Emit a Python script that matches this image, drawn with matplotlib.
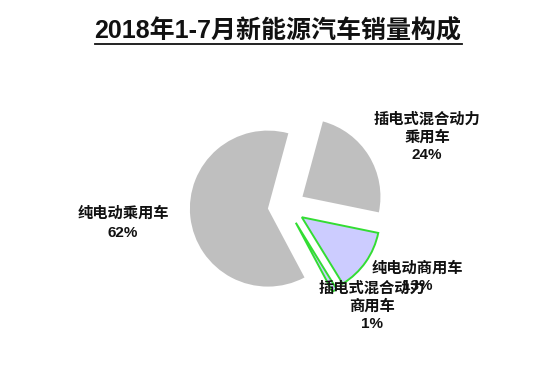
import matplotlib.pyplot as plt
from matplotlib.lines import Line2D

# data
title = '2018年1-7月新能源汽车销量构成'
categories = ['纯电动乘用车', '插电式混合动力\n乘用车', '纯电动商用车', '插电式混合动力\n商用车']
shares = [62, 24, 13, 1]

W, H = 554, 366
fig = plt.figure(figsize=(W / 100, H / 100), dpi=100)
fig.patch.set_facecolor('white')

# axes over the whole figure, 78 px per unit, pie centre at pixel (286.5, 206.5)
R = 78.0
cx, cy = 286.5, 206.5
ax = fig.add_axes([0, 0, 1, 1])

colors = ['#bfbfbf', '#bfbfbf', '#ccccff', '#ccccff']
edges = ['none', 'none', '#33dd33', '#33dd33']
wedges, _ = ax.pie(shares, startangle=-62, counterclock=False,
                   explode=[0.24] * 4, colors=colors, radius=1.0,
                   center=(0, 0), frame=True)
for w, ec in zip(wedges, edges):
    w.set_edgecolor(ec)
    w.set_linewidth(1.4 if ec != 'none' else 0)
ax.set_xlim(-cx / R, (W - cx) / R)
ax.set_ylim(-(H - cy) / R, cy / R)
ax.axis('off')

fam = ['Liberation Sans', 'Noto Sans CJK SC']

# data labels (pixel positions of label centres in the reference)
label_pos = [(123, 223), (427, 137), (417, 277), (372, 306)]
spacing = [1.5, 1.3, 1.3, 1.3]
for name, v, (px, py), ls in zip(categories, shares, label_pos, spacing):
    fig.text(px / W, 1 - py / H, f'{name}\n{v}%', ha='center', va='center',
             family=fam, fontsize=11, fontweight='bold', color='#111111',
             linespacing=ls)

# title with underline
fig.text(278 / W, 1 - 31 / H, title, ha='center', va='center', family=fam,
         fontsize=18, fontweight='heavy', color='#111111')
fig.add_artist(Line2D([95 / W, 462 / W], [1 - 44 / H, 1 - 44 / H],
                      transform=fig.transFigure, color='#111111', lw=1.3))

fig.savefig('out.png', dpi=100)
